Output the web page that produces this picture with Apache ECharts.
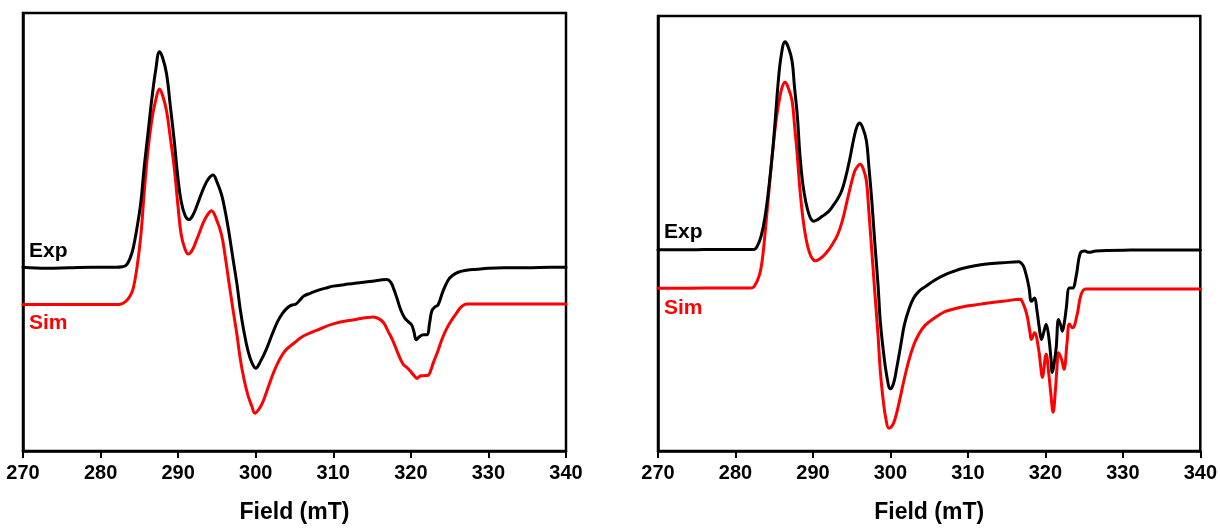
<!DOCTYPE html>
<html>
<head>
<meta charset="utf-8">
<script src="https://cdn.jsdelivr.net/npm/echarts@6/dist/echarts.min.js"></script>
<style>
html,body{margin:0;padding:0;background:#fff;}
#chart{width:1220px;height:529px;}
</style>
</head>
<body>
<div id="chart"></div>
<script>
// Field values (mT) and intensities (arbitrary units)
const xTicks = [270, 280, 290, 300, 310, 320, 330, 340];
const xTitle = 'Field (mT)';
const seriesNames = ['Exp', 'Sim'];

const leftExp = [
  [270,185],[273,184],[276,184.5],[279,185],[282,185],[282.8,185.5],[283.3,187],[283.8,194],[284.2,204],[284.7,225],[285.2,251],[285.6,284],[286.1,319],[286.6,354],[287.1,383],[287.6,402],[288.0,396],[288.5,380],[289.0,347],[289.5,312],[290.0,273],[290.4,251],[290.9,237],[291.4,233],[291.8,236],[292.3,244.5],[292.8,255],[293.3,265],[293.9,274],[294.5,278],[295.0,271],[295.6,258],[296.1,240],[296.6,217.5],[297.1,192],[297.6,167],[298.0,143],[298.5,119.5],[299.0,101],[299.5,89],[300.0,83.4],[300.6,90],[301.4,103],[302.1,117],[302.8,130],[303.5,139],[304.2,145],[304.7,147],[305.2,148],[305.7,152],[306.2,156],[307.1,159],[308.1,162],[309,164],[310,166],[311.4,167.5],[312.8,169],[315,171],[316.9,172.6],[317.4,170],[317.8,163],[318.2,154],[318.7,142],[319.2,134],[319.7,130],[320.1,127],[320.4,120],[320.7,112],[321.1,115],[321.6,117],[322.1,117],[322.4,128],[322.7,141],[323.1,145],[323.5,147],[324.1,160],[324.8,172],[325.4,177],[326.1,180],[327.2,182],[328.5,183],[330,184],[332,184.5],[335,184.5],[338,185],[340,185]
];
const leftSim = [
  [270,147.6],[276,147.6],[282.3,147.6],[282.8,148.5],[283.3,151],[283.8,156],[284.2,163.5],[284.7,185],[285.2,217.5],[285.6,258],[286.1,302],[286.6,333],[287.1,353],[287.6,364.5],[288.0,358],[288.5,342.5],[289.0,315],[289.5,285],[290.0,245],[290.4,217.5],[290.9,203],[291.3,198.3],[291.8,202],[292.3,211],[292.8,221],[293.3,231],[293.8,238],[294.3,242],[294.9,234],[295.6,217.5],[296.1,194],[296.6,167],[297.1,141],[297.6,116],[298.0,93],[298.5,72],[299.0,56],[299.5,45],[299.9,38],[300.4,42],[300.9,49],[301.6,64],[302.3,79],[303.0,91],[303.8,101],[305,109],[306.2,116],[308,122],[310,128],[312.5,132],[315.2,135],[315.9,133],[316.5,129],[317.1,120],[317.7,110.7],[318.3,99],[319,87.3],[319.5,84],[319.9,80.7],[320.4,76],[320.8,73],[321.1,75],[321.4,75.7],[321.9,76],[322.3,76.7],[322.6,82],[322.9,89],[323.5,101],[324,112.3],[324.6,123],[325.3,132.3],[325.9,139],[326.5,145],[327.2,148],[330,148],[335,148],[340,148]
];
const rightExp = [
  [270,202.6],[274,202.6],[278,203],[282.4,203],[282.8,206],[283.3,216],[283.8,235],[284.3,265],[284.8,302],[285.2,340],[285.5,370],[285.9,398],[286.4,412],[286.8,407],[287.3,393],[287.6,368],[288,336],[288.3,300],[288.7,268.4],[289.1,250],[289.5,238],[289.8,233],[290.1,231.3],[290.6,233],[291.2,236.4],[292,241],[292.7,248.2],[293.2,254],[293.7,261.7],[294.2,275],[294.7,292],[295.1,308],[295.4,319],[295.7,327],[296.0,330.2],[296.4,326],[296.9,312.3],[297.2,288],[297.6,251.6],[298.0,208],[298.4,167.2],[298.7,130],[299.1,100],[299.5,77],[300.0,62.6],[300.4,68],[300.8,83],[301.3,105],[301.8,127],[302.4,143],[303,154],[303.7,161],[304.5,165.5],[305.7,172],[307,177.4],[308.2,181],[309.4,184],[310.9,186.5],[312.4,188.2],[314.5,189.5],[316.6,190.5],[316.9,189],[317.2,185.7],[317.6,175],[317.9,164],[318.2,150.7],[318.6,154],[318.9,142.3],[319.2,125],[319.5,112.3],[319.8,120],[320.1,127.3],[320.4,117.3],[320.7,95],[320.9,79],[321.2,92],[321.4,104],[321.7,132.3],[322.0,126],[322.2,120.7],[322.5,132],[322.7,144],[323.1,164],[323.5,164],[324,177.3],[324.5,199],[325.1,201.3],[325.6,200],[326.5,201.3],[328,202],[331,202.3],[335,202.5],[340,202.3]
];
const rightSim = [
  [270,163.9],[276,164],[281.9,164],[282.4,165.5],[283.1,177.3],[283.5,195],[283.8,218],[284.3,260],[284.8,302],[285.3,336],[285.8,359.5],[286.1,368],[286.4,371.3],[286.8,366],[287.3,353],[287.6,330],[288,295.4],[288.3,265],[288.7,234.7],[289.1,214],[289.5,201],[289.9,194],[290.3,191.5],[291,194],[291.7,199.3],[292.5,208],[293.2,218],[293.8,232],[294.4,251.6],[294.9,268],[295.4,282],[295.8,287],[296.1,288.7],[296.5,284],[296.9,271.8],[297.2,243],[297.6,201],[298.0,158],[298.4,116.6],[298.7,80],[299.1,49],[299.4,33],[299.8,23],[300.2,25],[300.6,32.3],[301.1,48],[301.6,66],[302.3,89],[303,106.5],[303.7,118],[304.5,126.7],[305.7,134],[307,140.2],[308.2,143],[309.4,145.3],[310.9,147],[312.4,148.7],[314.6,150.8],[316.8,152.7],[317.0,150.7],[317.4,143],[317.7,134],[318.0,120],[318.2,112.3],[318.6,119],[319.1,104],[319.4,85],[319.6,74],[320.1,97.3],[320.4,80.7],[320.7,58],[321.0,39],[321.3,62],[321.5,84],[321.7,99],[322.1,92],[322.4,82.3],[322.8,109],[323.1,128],[323.5,124],[324.1,137.3],[324.6,157.3],[325.2,163],[327,163],[330,163],[335,163],[340,163]
];

const chart = echarts.init(document.getElementById('chart'), null, {renderer: 'canvas'});

function xAxisCfg(gi) {
  return {
    type: 'value', gridIndex: gi, min: 270, max: 340, interval: 10,
    name: xTitle, nameLocation: 'middle', nameGap: 50,
    nameTextStyle: {fontFamily: 'Liberation Sans, Arial', fontWeight: 'bold', fontSize: 23, color: '#000'},
    axisLine: {show: true, onZero: false, lineStyle: {color: '#000', width: 2.5}},
    axisTick: {show: true, inside: false, length: 7, lineStyle: {color: '#000', width: 2}},
    axisLabel: {show: true, margin: 12, fontFamily: 'Liberation Sans, Arial', fontWeight: 'bold', fontSize: 20, color: '#000',
      formatter: v => xTicks.includes(v) ? String(v) : ''},
    splitLine: {show: false}
  };
}
function yAxisCfg(gi, max) {
  return {
    type: 'value', gridIndex: gi, min: 0, max: max,
    axisLine: {show: true, lineStyle: {color: '#000', width: 2.5}},
    axisTick: {show: false}, axisLabel: {show: false}, splitLine: {show: false}
  };
}
function line(name, data, gi, color) {
  return {
    name: name, type: 'line', xAxisIndex: gi, yAxisIndex: gi, data: data,
    showSymbol: false, smooth: 0.4,
    lineStyle: {color: color, width: 3, join: 'round', cap: 'round'}, itemStyle: {color: color},
    animation: false, z: name === 'Exp' ? 3 : 2
  };
}
const labelFont = 'bold 21px "Liberation Sans", Arial';

chart.setOption({
  animation: false,
  backgroundColor: '#fff',
  grid: [
    {left: 23, top: 13, width: 543, height: 441, show: true, borderColor: '#000', borderWidth: 2.5, backgroundColor: 'transparent'},
    {left: 658, top: 16, width: 544, height: 438, show: true, borderColor: '#000', borderWidth: 2.5, backgroundColor: 'transparent'}
  ],
  xAxis: [xAxisCfg(0), xAxisCfg(1)],
  yAxis: [yAxisCfg(0, 441), yAxisCfg(1, 438)],
  series: [
    line(seriesNames[0], leftExp, 0, '#000000'),
    line(seriesNames[1], leftSim, 0, '#ff0000'),
    line(seriesNames[0], rightExp, 1, '#000000'),
    line(seriesNames[1], rightSim, 1, '#ff0000')
  ],
  graphic: [
    {type: 'text', left: 29, top: 241, style: {text: seriesNames[0], font: labelFont, fill: '#000'}},
    {type: 'text', left: 29, top: 313, style: {text: seriesNames[1], font: labelFont, fill: '#ff0000'}},
    {type: 'text', left: 664, top: 222, style: {text: seriesNames[0], font: labelFont, fill: '#000'}},
    {type: 'text', left: 664, top: 298, style: {text: seriesNames[1], font: labelFont, fill: '#ff0000'}}
  ]
});
</script>
</body>
</html>
